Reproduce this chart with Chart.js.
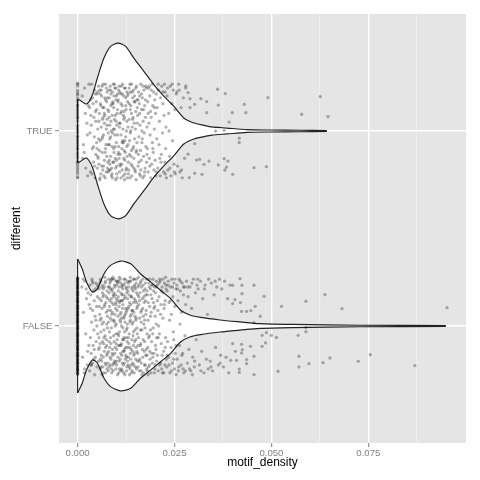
<!DOCTYPE html>
<html><head><meta charset="utf-8">
<script src="https://cdn.jsdelivr.net/npm/chart.js@4"></script>
<style>html,body{margin:0;padding:0;background:#fff}canvas{display:block}</style>
</head><body>
<canvas id="c" width="480" height="480"></canvas>
<script>
const categories = ['FALSE', 'TRUE'];
const categoryPos = [1, 2];
const xMajorTicks = [0, 0.025, 0.05, 0.075];
const xMinorTicks = [0.0125, 0.0375, 0.0625, 0.0875];
const xRange = [-0.0048, 0.1002];
const yRange = [0.4, 2.6];

// violin outlines: motif_density and half-width (in category units)
const trueViolinX = [0,.0005,.0023,.0038,.0051,.0068,.0085,.0105,.0124,.0145,.0171,.0197,.0223,.0248,.0274,.03,.0326,.0346,.0385,.0437,.0496,.0573,.0643];
const trueViolinW = [.162,.159,.138,.185,.272,.374,.434,.451,.434,.374,.306,.237,.178,.127,.067,.041,.029,.021,.015,.007,.005,.004,.002];
const falseViolinX = [0,.0012,.0023,.0038,.0051,.0068,.0085,.0111,.0137,.0162,.0188,.0214,.024,.0266,.0291,.0317,.0367,.0419,.047,.0555,.0728,.095];
const falseViolinW = [.344,.292,.226,.174,.19,.267,.311,.333,.319,.268,.226,.183,.14,.081,.055,.044,.031,.021,.012,.008,.004,.002];

// jitter offsets of observations with motif_density = 0
const trueZeroJitter = [.24,.21,.19,.17,.15,.13,.12,.1,.08,.07,.05,.03,.02,0,-.01,-.03,-.04,-.06,-.08,-.09,-.11,-.12,-.14,-.16,-.17,-.19,-.21,-.22,-.24,.23,.16,.09,.01,-.07,-.13,-.2,.2,.11,-.05,-.18,.245,.185,.135,.065,-.025,-.095,-.155,-.235];
const falseZeroJitter = [.248,.243,.236,.231,.225,.219,.214,.207,.202,.196,.191,.184,.178,.173,.167,.161,.155,.149,.144,.138,.131,.126,.12,.115,.108,.103,.097,.091,.085,.079,.074,.068,.062,.056,.051,.045,.039,.033,.027,.022,.016,.01,.004,-.002,-.008,-.013,-.019,-.025,-.031,-.036,-.042,-.048,-.054,-.059,-.065,-.071,-.077,-.082,-.088,-.094,-.1,-.105,-.111,-.117,-.123,-.128,-.134,-.14,-.146,-.151,-.157,-.163,-.169,-.174,-.18,-.186,-.192,-.197,-.203,-.209,-.215,-.22,-.226,-.232,-.238,-.243,-.249,
.246,.229,.211,.193,.176,.158,.141,.124,.106,.088,.071,.053,.036,.018,.001,-.016,-.034,-.051,-.069,-.086,-.104,-.121,-.139,-.156,-.173,-.191,-.208,-.226,-.243,.24,.2,.165,.13,.095,.06,.025,-.01,-.045,-.08,-.115,-.15,-.185,-.22];

// [motif_density, jitter offset] for TRUE
const truePoints = [
[.0012,.18],[.0015,-.07],[.0018,.22],[.0021,-.19],[.0024,.04],[.0026,-.23],[.0028,.13],[.0013,-.14],[.002,.09],[.0025,-.02],[.0029,.24],[.0017,-.11],
[.0031,.12],[.0033,-.21],[.0035,.03],[.0036,.24],[.0038,-.09],[.0039,.17],[.0041,-.16],[.0042,.07],[.0043,-.03],[.0044,.21],[.0045,-.24],[.0046,.1],[.0047,-.12],[.0048,.15],[.0049,-.06],[.005,.19],[.0051,-.19],[.0052,.01],[.0053,-.14],[.0054,.23],[.0032,-.01],[.0034,.08],[.0037,-.22],[.004,.14],[.0044,-.18],[.0047,.05],[.005,-.09],[.0052,.2],[.0054,-.04],[.0049,.11],
[.0055,-.17],[.0056,.09],[.0057,.21],[.0058,-.05],[.0059,.14],[.006,-.22],[.0061,.02],[.0062,.18],[.0063,-.11],[.0064,.06],[.0065,-.2],[.0066,.24],[.0067,-.02],[.0068,.12],[.0069,-.15],[.007,.08],[.0071,-.24],[.0072,.16],[.0073,-.07],[.0074,.22],[.0075,-.13],[.0076,.03],[.0077,-.19],[.0078,.11],[.0079,-.01],[.0056,-.1],[.0058,.19],[.006,.13],[.0062,-.18],[.0064,-.03],[.0066,.07],[.0068,-.23],[.007,.17],[.0072,-.09],[.0074,.01],[.0076,.2],[.0078,-.16],[.0057,-.25],[.0063,.23],[.0069,.04],[.0075,.15],[.0079,-.21],
[.008,.1],[.0081,-.2],[.0082,.17],[.0083,-.04],[.0084,.23],[.0085,-.13],[.0086,.05],[.0087,-.23],[.0088,.14],[.0089,-.08],[.009,.2],[.0091,-.16],[.0092,.01],[.0093,.12],[.0094,-.11],[.0095,.24],[.0096,-.02],[.0097,.08],[.0098,-.19],[.0099,.16],[.01,-.06],[.0101,.03],[.0102,-.24],[.0103,.19],[.0104,-.12],[.0081,.07],[.0083,-.17],[.0085,.21],[.0087,0],[.0089,-.22],[.0091,.15],[.0093,-.09],[.0095,.06],[.0097,-.14],[.0099,.22],[.0101,-.18],[.0103,.11],[.0082,-.07],[.0086,.13],[.009,-.01],[.0094,.18],[.0098,-.25],[.0102,.09],[.0084,-.2],[.0092,.24],[.01,-.15],
[.0105,.16],[.0106,-.08],[.0107,.04],[.0108,-.21],[.0109,.2],[.011,-.12],[.0111,.09],[.0112,-.02],[.0113,.23],[.0114,-.17],[.0115,.13],[.0116,-.05],[.0117,.01],[.0118,-.23],[.0119,.18],[.012,-.1],[.0121,.07],[.0122,-.15],[.0123,.22],[.0124,-.03],[.0125,.11],[.0126,-.19],[.0127,.05],[.0128,-.24],[.0129,.15],[.0106,.21],[.0108,.02],[.011,-.18],[.0112,.14],[.0114,-.09],[.0116,.24],[.0118,-.06],[.012,.1],[.0122,-.22],[.0124,.17],[.0126,0],[.0128,-.13],[.0107,-.14],[.0111,.19],[.0115,-.2],[.0119,.06],[.0123,-.11],[.0127,.2],[.0121,-.25],
[.013,-.07],[.0131,.19],[.0132,-.2],[.0133,.06],[.0134,-.12],[.0135,.24],[.0136,-.01],[.0137,.13],[.0138,-.17],[.0139,.09],[.014,-.23],[.0141,.02],[.0142,.17],[.0143,-.09],[.0144,.21],[.0145,-.14],[.0146,.04],[.0147,-.04],[.0148,.15],[.0149,-.21],[.015,.1],[.0151,-.11],[.0152,.23],[.0153,-.06],[.0154,.12],[.0131,-.16],[.0133,.22],[.0135,-.24],[.0137,0],[.0139,-.1],[.0141,.2],[.0143,.07],[.0145,-.19],[.0147,.18],[.0149,.01],[.0151,-.25],[.0153,.16],[.0136,.11],
[.0155,.08],[.0156,-.18],[.0157,.2],[.0158,-.03],[.0159,.14],[.016,-.22],[.0161,.03],[.0162,-.1],[.0163,.24],[.0164,-.15],[.0165,.11],[.0166,-.06],[.0167,.17],[.0168,-.24],[.0169,.05],[.017,-.13],[.0171,.21],[.0172,-.01],[.0173,.13],[.0174,-.19],[.0175,.07],[.0176,-.08],[.0177,.22],[.0178,-.16],[.0179,.02],[.0157,-.12],[.016,.18],[.0163,-.2],[.0166,0],[.0169,.23],[.0172,-.23],[.0175,.16],
[.018,-.09],[.0181,.15],[.0182,-.21],[.0183,.22],[.0184,.04],[.0185,-.14],[.0186,.18],[.0187,-.02],[.0188,.1],[.0189,-.24],[.019,.07],[.0191,-.17],[.0192,.24],[.0193,-.06],[.0194,.13],[.0195,-.11],[.0196,.2],[.0197,-.2],[.0198,.01],[.0199,.16],[.02,-.15],[.0201,.09],[.0202,-.23],[.0203,.19],[.0204,-.04],[.0185,.23],
[.0205,.12],[.0207,-.19],[.0208,.21],[.021,-.07],[.0211,.05],[.0213,-.23],[.0214,.17],[.0216,-.12],[.0217,.23],[.0219,-.01],[.022,.14],[.0222,-.21],[.0223,.08],[.0225,-.16],[.0226,.2],[.0227,-.09],[.0228,.02],[.0229,-.24],[.0224,.24],[.0212,-.14],
[.0231,.18],[.0233,-.2],[.0235,.09],[.0237,-.13],[.0239,.23],[.0241,-.23],[.0243,.14],[.0245,-.05],[.0247,.21],[.0249,-.17],[.0251,.11],[.0252,-.22],[.0254,.19],[.0236,0],
[.0256,.2],[.0258,-.18],[.0261,.24],[.0264,-.21],[.0267,.12],[.027,-.24],[.0273,.17],[.0276,-.14],[.0279,.22],
[.0034,.16],[.0041,-.08],[.0045,.19],[.0052,-.13],[.0055,.05],[.0058,-.24],[.0061,.21],[.0063,-.04],[.0065,.12],[.0067,-.18],[.0069,.09],[.0071,-.11],[.0072,.24],[.0074,-.21],[.0076,.06],[.0077,.17],[.0079,-.07],[.008,.21],[.0082,-.15],[.0083,.03],[.0085,-.03],[.0086,.19],[.0088,-.19],[.0089,.08],[.009,-.24],[.0092,.14],[.0093,-.16],[.0095,.01],[.0096,.22],[.0097,-.08],[.0099,.05],[.01,.18],[.0101,-.22],[.0103,-.02],[.0104,.15],[.0106,-.11],[.0107,.23],[.0109,-.17],[.011,.04],[.0112,-.24],[.0113,.1],[.0115,-.06],[.0116,.19],[.0118,.08],[.0119,-.14],[.0121,.22],[.0122,-.05],[.0124,.13],[.0125,-.2],[.0127,-.08],[.0128,.18],[.013,.02],[.0131,-.22],[.0133,.14],[.0134,-.05],[.0136,.2],[.0138,-.13],[.0139,.24],[.0141,-.18],[.0142,.06],[.0144,-.08],[.0146,.15],[.0148,-.2],[.015,.22],[.0152,-.1],[.0154,.04],[.0156,.16],[.0158,-.16],[.016,.09],[.0162,-.23],[.0165,.19],[.0167,-.04],[.017,.11],[.0173,-.21],[.0176,.23],[.0179,-.12],[.0182,.09],[.0186,-.18],[.019,.21],[.0194,-.09],[.0198,.12],[.0203,-.21],[.0208,.24],[.0215,-.16],[.022,.2],[.0226,-.22],[.0232,.22],[.0238,-.19],[.0244,.24],[.025,-.21],[.0262,.21],[.0268,-.2],
[.0361,.214],[.0381,.192],[.0318,.166],[.0333,.151],[.0363,.133],[.043,.137],[.0491,.171],[.0626,.176],[.0578,.086],[.0646,.074],[.0399,.094],[.0434,.094],[.0391,.046],[.0333,.094],[.0302,.137],[.029,.12],[.0285,.197],[.029,.166],[.0279,.231],[.0417,-.037],[.0417,-.059],[.0302,-.065],[.0285,-.119],[.0307,-.149],[.0315,-.145],[.0339,-.154],[.0378,-.142],[.0388,-.154],[.0363,-.174],[.0384,-.185],[.038,-.2],[.0455,-.188],[.0487,-.183],[.04,-.222],[.0321,-.222],[.0302,-.217],[.0288,-.239],[.0326,-.171],[.0356,0],[.0378,.004]
];

// [motif_density, jitter offset] for FALSE
const falsePoints = [
[.0011,.2],[.0013,-.16],[.0015,.07],[.0017,-.24],[.0019,.23],[.0021,-.04],[.0023,.14],[.0025,-.2],[.0027,.17],[.0029,-.1],[.0014,.24],[.0018,-.22],[.0022,.19],[.0026,-.13],
[.003,.11],[.0031,-.23],[.0032,.21],[.0033,-.06],[.0034,.16],[.0035,-.14],[.0036,.02],[.0037,.24],[.0038,-.19],[.0039,.08],[.004,-.1],[.0041,.18],[.0042,-.02],[.0043,.13],[.0044,-.25],[.0045,.05],[.0046,-.16],[.0047,.22],[.0048,-.08],[.0049,.1],[.005,-.21],[.0051,.15],[.0052,-.04],[.0053,.2],[.0054,-.12],[.0034,-.2],[.0038,.23],[.0042,-.17],[.0046,.19],[.005,0],
[.0055,.19],[.0056,-.11],[.0057,.06],[.0058,-.22],[.0059,.24],[.006,-.03],[.0061,.13],[.0062,-.18],[.0063,.09],[.0064,-.08],[.0065,.21],[.0066,-.24],[.0067,.02],[.0068,.16],[.0069,-.13],[.007,.11],[.0071,-.05],[.0072,.23],[.0073,-.2],[.0074,.07],[.0075,-.15],[.0076,.18],[.0077,-.01],[.0078,.14],[.0079,-.23],[.0055,-.06],[.0057,.22],[.0059,-.17],[.0061,.04],[.0063,-.25],[.0065,.15],[.0067,-.09],[.0069,.2],[.0071,-.19],[.0073,.12],[.0075,.01],[.0077,-.14],[.0079,.24],[.0056,.1],[.006,-.21],[.0064,.17],[.0068,-.02],[.0072,-.11],[.0076,-.22],[.0058,.03],[.0062,.2],[.0066,-.16],[.007,.25],[.0074,-.07],[.0078,.08],
[.008,-.13],[.0081,.17],[.0082,-.03],[.0083,.22],[.0084,-.2],[.0085,.08],[.0086,-.09],[.0087,.14],[.0088,-.24],[.0089,.03],[.009,.19],[.0091,-.15],[.0092,.11],[.0093,-.05],[.0094,.24],[.0095,-.18],[.0096,.06],[.0097,-.11],[.0098,.16],[.0099,-.22],[.01,.01],[.0101,.21],[.0102,-.07],[.0103,.13],[.0104,-.16],[.0081,-.21],[.0082,.1],[.0083,-.11],[.0084,.04],[.0085,.23],[.0086,-.17],[.0087,-.01],[.0088,.18],[.0089,-.14],[.009,.07],[.0091,.25],[.0092,-.23],[.0093,.15],[.0094,-.08],[.0095,.02],[.0096,.2],[.0097,-.19],[.0098,.09],[.0099,-.04],[.01,.14],[.0101,-.12],[.0102,.23],[.0103,-.25],[.0104,.05],[.0105,-.1],[.0082,.2],[.0085,-.06],[.0088,.12],[.0091,-.2],[.0094,.17],[.0097,0],[.01,-.18],[.0103,.22],[.0086,.24],[.0099,.11],
[.0105,.18],[.0106,-.05],[.0107,.1],[.0108,-.22],[.0109,.03],[.011,.24],[.0111,-.14],[.0112,.07],[.0113,-.09],[.0114,.2],[.0115,-.19],[.0116,.13],[.0117,-.01],[.0118,.16],[.0119,-.24],[.012,.05],[.0121,-.12],[.0122,.22],[.0123,-.17],[.0124,.09],[.0125,-.06],[.0126,.19],[.0127,-.21],[.0128,.01],[.0129,.14],[.0106,.23],[.0107,-.18],[.0108,.12],[.0109,-.1],[.011,.06],[.0111,-.23],[.0112,.17],[.0113,0],[.0114,-.15],[.0115,.21],[.0116,-.07],[.0117,.11],[.0118,-.2],[.0119,.04],[.012,.24],[.0121,-.03],[.0122,-.25],[.0123,.15],[.0124,-.11],[.0125,.2],[.0126,-.16],[.0127,.08],[.0128,-.08],[.0129,.23],[.013,-.2],[.0108,.25],[.0111,.02],[.0114,-.22],[.0117,.19],[.012,-.13],[.0123,.06],[.0126,-.02],[.0129,-.18],[.0113,.13],[.0119,-.06],
[.013,.09],[.0131,-.16],[.0132,.2],[.0133,-.04],[.0134,.12],[.0135,-.22],[.0136,.05],[.0137,.23],[.0138,-.12],[.0139,.15],[.014,-.07],[.0141,.01],[.0142,-.19],[.0143,.18],[.0144,-.1],[.0145,.07],[.0146,-.24],[.0147,.21],[.0148,-.02],[.0149,.13],[.015,-.17],[.0151,.04],[.0152,.24],[.0153,-.13],[.0154,.1],[.0131,.22],[.0132,-.09],[.0133,.16],[.0134,-.25],[.0135,.02],[.0136,-.14],[.0137,.11],[.0138,-.2],[.0139,.06],[.014,.19],[.0141,-.23],[.0142,.08],[.0143,-.05],[.0144,.24],[.0145,-.15],[.0146,.14],[.0147,-.08],[.0148,.2],[.0149,-.21],[.015,.03],[.0151,-.11],[.0152,.17],[.0153,-.01],[.0154,-.18],[.0136,.25],[.0144,-.03],[.0152,.12],
[.0155,-.14],[.0156,.2],[.0157,-.06],[.0158,.11],[.0159,-.23],[.016,.04],[.0161,.17],[.0162,-.1],[.0163,.23],[.0164,-.19],[.0165,.08],[.0166,-.02],[.0167,.14],[.0168,-.16],[.0169,.21],[.017,-.24],[.0171,.01],[.0172,.12],[.0173,-.08],[.0174,.19],[.0175,-.2],[.0176,.06],[.0177,-.12],[.0178,.24],[.0179,-.04],[.0156,-.21],[.0158,.15],[.016,-.17],[.0162,.22],[.0164,.02],[.0166,-.25],[.0168,.09],[.017,.18],[.0172,-.13],[.0174,-.01],[.0176,.16],[.0178,-.22],[.0157,.25],[.0163,-.09],[.0169,.05],[.0175,.13],[.0179,-.15],
[.018,.16],[.0181,-.11],[.0182,.03],[.0183,-.21],[.0184,.22],[.0185,-.05],[.0186,.1],[.0187,-.17],[.0188,.19],[.0189,-.24],[.019,.07],[.0191,-.08],[.0192,.14],[.0193,-.19],[.0194,.24],[.0195,-.01],[.0196,.12],[.0197,-.14],[.0198,.2],[.0199,-.22],[.02,.05],[.0201,.17],[.0202,-.12],[.0203,.23],[.0204,-.06],[.0182,-.25],[.0185,.2],[.0188,-.02],[.0191,.21],[.0194,-.16],[.0197,.09],[.02,-.2],[.0203,.01],[.0186,-.13],
[.0205,.21],[.0206,-.15],[.0207,.08],[.0208,-.23],[.021,.15],[.0211,-.04],[.0212,.24],[.0214,-.19],[.0215,.11],[.0216,-.09],[.0218,.2],[.0219,-.24],[.022,.04],[.0221,.17],[.0222,-.13],[.0224,.22],[.0225,-.2],[.0226,.13],[.0227,-.06],[.0228,.19],[.0229,-.17],[.0209,0],[.0213,.23],[.0217,-.22],[.0223,.09],[.0227,.25],
[.023,-.21],[.0231,.18],[.0232,-.08],[.0234,.23],[.0235,-.16],[.0236,.12],[.0238,-.24],[.0239,.2],[.0241,-.11],[.0242,.06],[.0243,.24],[.0245,-.19],[.0246,.15],[.0247,-.03],[.0249,.22],[.025,-.22],[.0251,.1],[.0252,-.14],[.0253,.19],[.0254,-.25],[.0237,.03],[.0248,-.07],
[.0256,.21],[.0257,-.17],[.0259,.13],[.026,-.23],[.0262,.24],[.0263,-.1],[.0265,.18],[.0267,-.2],[.0268,.07],[.027,.22],[.0271,-.14],[.0273,.16],[.0274,-.24],[.0276,.2],[.0277,-.05],[.0279,.11],[.0264,.01],[.0272,-.22],
[.0281,.23],[.0283,-.19],[.0285,.15],[.0287,-.12],[.029,.2],[.0292,-.23],[.0294,.09],[.0297,-.16],[.0299,.24],[.0301,-.21],[.0304,.17],[.0306,-.07],[.0308,.21],[.0296,-.25],
[.0311,.19],[.0314,-.2],[.0317,.23],[.032,-.13],[.0323,.14],[.0326,-.24],[.0329,.21],[.0332,-.17],[.0335,.06],[.0338,.24],[.0337,-.22],
[.0342,-.18],[.0345,.22],[.0348,-.23],[.0352,.16],[.0356,-.11],[.0359,.2],[.0363,-.2],[.0366,.24],[.0369,-.15],
[.0372,.19],[.0376,-.21],[.0379,.23],[.0383,-.16],[.0387,.14],[.039,-.24],[.0393,.21],
[.0033,.09],[.0036,-.2],[.0039,.22],[.0043,-.12],[.0047,.03],[.0051,.21],[.0054,-.18],
[.0056,.14],[.0058,-.09],[.006,.23],[.0061,-.15],[.0063,.01],[.0065,-.21],[.0066,.19],[.0068,-.06],[.0069,.1],[.0071,.22],[.0072,-.24],[.0074,.15],[.0075,-.1],[.0077,.05],[.0078,-.19],[.0079,.2],
[.008,.02],[.0081,-.08],[.0083,.13],[.0084,-.16],[.0085,.19],[.0087,-.22],[.0088,.06],[.0089,.24],[.009,-.12],[.0092,.16],[.0093,-.19],[.0094,.03],[.0095,.21],[.0096,-.14],[.0098,.12],[.0099,-.09],[.01,.23],[.0101,-.2],[.0102,.08],[.0104,-.04],[.0105,.15],
[.0106,-.24],[.0107,.2],[.0108,-.03],[.0109,.13],[.011,-.17],[.0111,.22],[.0112,-.1],[.0113,.04],[.0114,.16],[.0115,-.23],[.0116,.09],[.0117,-.13],[.0118,.21],[.0119,-.07],[.012,.14],[.0121,-.19],[.0122,.02],[.0123,.24],[.0124,-.15],[.0125,.07],[.0126,-.23],[.0127,.17],[.0128,-.01],[.0129,-.11],
[.013,.18],[.0131,-.06],[.0132,.1],[.0133,-.21],[.0134,.23],[.0135,-.11],[.0136,.03],[.0137,-.17],[.0138,.15],[.0139,-.24],[.014,.08],[.0141,.2],[.0142,-.13],[.0143,.02],[.0144,.12],[.0145,-.2],[.0146,.24],[.0147,-.14],[.0148,.05],[.0149,.19],[.015,-.07],[.0151,.22],[.0152,-.22],[.0153,.09],[.0154,-.04],
[.0155,.16],[.0156,-.1],[.0158,.21],[.0159,-.18],[.016,.13],[.0162,-.02],[.0163,.07],[.0164,-.23],[.0165,.2],[.0167,-.12],[.0168,.24],[.0169,-.07],[.0171,.15],[.0172,-.2],[.0173,.03],[.0175,.22],[.0176,-.15],[.0177,.08],[.0179,.18],
[.018,-.23],[.0182,.12],[.0183,-.06],[.0185,.24],[.0186,-.2],[.0188,.05],[.0189,.16],[.0191,-.14],[.0193,.21],[.0194,-.04],[.0196,.18],[.0198,-.24],[.0199,.1],[.0201,-.1],[.0203,.2],[.0204,-.18],
[.0206,.13],[.0208,-.06],[.021,.22],[.0212,-.2],[.0214,.06],[.0216,.18],[.0218,-.15],[.022,.24],[.0222,-.24],[.0224,.11],[.0226,-.11],[.0228,.21],
[.0231,-.15],[.0233,.21],[.0236,-.2],[.0239,.13],[.0242,-.23],[.0245,.2],[.0248,-.17],[.0251,.24],[.0254,-.1],
[.0258,.19],[.0261,-.21],[.0265,.23],[.0269,-.15],[.0273,.2],[.0278,-.23],
[.0284,.2],[.0289,-.22],[.0295,.22],[.0302,-.18],[.031,.24],[.0318,-.23],[.0327,.19],[.0344,-.21],[.0355,.23],[.0368,-.19],
[.0419,.243],[.04,.209],[.0424,.209],[.0455,.209],[.0424,.166],[.0481,.152],[.0406,.135],[.04,.115],[.042,.12],[.0458,.101],[.0423,.075],[.0436,.075],[.0447,.079],[.0526,.101],[.0589,.127],[.0638,.161],[.0682,.089],[.0953,.094],[.0471,.05],[.0455,.017],[.0476,-.048],[.0487,-.034],[.05,-.048],[.0513,-.059],[.0569,-.048],[.0589,-.008],[.0589,-.029],[.04,-.09],[.0423,-.094],[.0446,-.104],[.0476,-.104],[.0485,-.087],[.0407,-.13],[.0425,-.121],[.0423,-.138],[.0455,-.155],[.0395,-.176],[.041,-.176],[.0436,-.172],[.0436,-.193],[.0417,-.221],[.0417,-.238],[.0455,-.249],[.0517,-.232],[.0571,-.155],[.0571,-.21],[.0597,-.193],[.0633,-.188],[.0651,-.164],[.0724,-.181],[.0755,-.147],[.087,-.203]
];

const FONT = '"Liberation Sans", Arial, Helvetica, sans-serif';
const isMajor = v => xMajorTicks.some(m => Math.abs(m - v) < 1e-9);

function violin(xs, ws, pos) {
  const line = {type: 'line', showLine: true, pointRadius: 0, pointHoverRadius: 0,
    borderColor: '#222222', borderWidth: 1.15, tension: 0.25, backgroundColor: '#ffffff'};
  return [
    Object.assign({}, line, {order: 2, fill: false, data: xs.map((x, i) => ({x, y: pos + ws[i]}))}),
    Object.assign({}, line, {order: 3, fill: '-1', data: xs.map((x, i) => ({x, y: pos - ws[i]}))}),
    Object.assign({}, line, {order: 2, fill: false, tension: 0,
      data: [{x: xs[0], y: pos - ws[0]}, {x: xs[0], y: pos + ws[0]}]})
  ];
}
function pts(points, zero, pos) {
  const data = zero.map(j => ({x: 0, y: pos + j})).concat(points.map(([x, j]) => ({x, y: pos + j})));
  return {type: 'scatter', order: 0, data, pointRadius: 1.65, pointHoverRadius: 1.65,
    pointBackgroundColor: 'rgba(0,0,0,0.3)', pointBorderWidth: 0, showLine: false};
}

const bgPlugin = {
  id: 'bg',
  beforeDraw(chart) {
    const {ctx, chartArea: a} = chart;
    ctx.save();
    ctx.fillStyle = '#ffffff';
    ctx.fillRect(0, 0, chart.width, chart.height);
    ctx.fillStyle = '#e5e5e5';
    ctx.fillRect(a.left, a.top, a.right - a.left, a.bottom - a.top);
    ctx.restore();
  }
};

new Chart(document.getElementById('c'), {
  type: 'scatter',
  data: {
    datasets: [
      ...violin(trueViolinX, trueViolinW, categoryPos[1]),
      ...violin(falseViolinX, falseViolinW, categoryPos[0]),
      pts(truePoints, trueZeroJitter, categoryPos[1]),
      pts(falsePoints, falseZeroJitter, categoryPos[0])
    ]
  },
  options: {
    responsive: false, animation: false, devicePixelRatio: 1, events: [],
    layout: {padding: {left: 0, right: 14, top: 14, bottom: 0}},
    plugins: {legend: {display: false}, tooltip: {enabled: false}},
    scales: {
      x: {
        type: 'linear', min: xRange[0], max: xRange[1],
        afterBuildTicks: s => { s.ticks = xMajorTicks.concat(xMinorTicks).sort((a, b) => a - b).map(v => ({value: v})); },
        afterFit: s => { s.height = 37; },
        border: {display: false},
        grid: {
          color: c => (c.tick && isMajor(c.tick.value)) ? '#ffffff' : '#f2f2f2',
          lineWidth: c => (c.tick && isMajor(c.tick.value)) ? 1.4 : 0.7,
          tickColor: c => (c.tick && isMajor(c.tick.value)) ? '#7f7f7f' : 'rgba(0,0,0,0)',
          tickLength: 4, tickWidth: 1
        },
        ticks: {
          autoSkip: false, maxRotation: 0, padding: 1, color: '#7f7f7f',
          font: {family: FONT, size: 9.6},
          callback: v => isMajor(v) ? v.toFixed(3) : ''
        },
        title: {display: true, text: 'motif_density', color: '#000000',
          font: {family: FONT, size: 12}, padding: {top: 0, bottom: 9.8}}
      },
      y: {
        type: 'linear', min: yRange[0], max: yRange[1],
        afterBuildTicks: s => { s.ticks = categoryPos.map(v => ({value: v})); },
        afterFit: s => { s.width = 59; },
        border: {display: false},
        grid: {color: '#ffffff', lineWidth: 1.4, tickColor: '#7f7f7f', tickLength: 4, tickWidth: 1},
        ticks: {
          autoSkip: false, padding: 2.5, color: '#7f7f7f',
          font: {family: FONT, size: 9.6},
          callback: v => categories[categoryPos.indexOf(v)]
        },
        title: {display: true, text: 'different', color: '#000000',
          font: {family: FONT, size: 12}, padding: {top: 9.3, bottom: 0}}
      }
    }
  },
  plugins: [bgPlugin]
});
</script>
</body></html>
